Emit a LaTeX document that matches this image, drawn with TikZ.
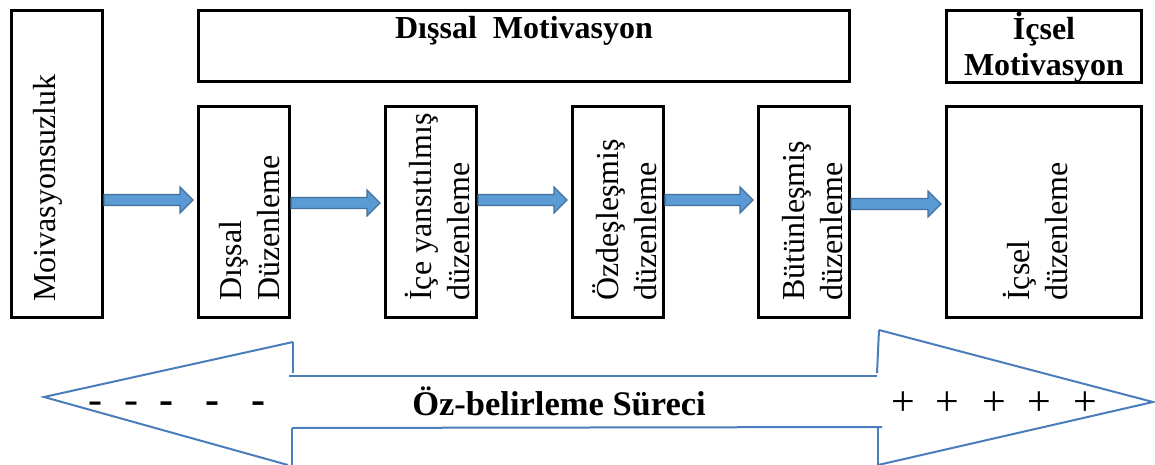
\documentclass[tikz,border=0pt]{standalone}
\usepackage{fontspec}
\setmainfont{Liberation Serif}
\usetikzlibrary{calc}
\definecolor{arrowfill}{HTML}{5B9BD5}
\definecolor{arrowedge}{HTML}{41719C}
\definecolor{spanline}{HTML}{4A7EBB}
\begin{document}
\begin{tikzpicture}[x=1pt,y=-1pt,
  box/.style={draw=black, line width=3pt, inner sep=0pt, minimum width=91pt},
  lbl/.style={font=\fontsize{32}{38}\selectfont, inner sep=0pt},
  vlbl/.style={lbl, rotate=90, align=left, anchor=west},
  title/.style={font=\fontsize{32}{36}\selectfont\bfseries, inner sep=0pt, align=center},
  sign/.style={font=\fontsize{42}{48}\selectfont, inner sep=0pt, anchor=base},
  boldsign/.style={sign, font=\fontsize{42}{48}\selectfont\bfseries},
  barrow/.style={fill=arrowfill, draw=arrowedge, line width=1.2pt, line join=miter,
    to path={let \p1=(\tikztostart), \p2=(\tikztotarget) in
      (\x1,\y1+5.5pt) -- (\x2-17pt,\y1+5.5pt) -- (\x2-17pt,\y1+13pt) -- (\x2-4pt,\y1)
      -- (\x2-17pt,\y1-13pt) -- (\x2-17pt,\y1-5.5pt) -- (\x1,\y1-5.5pt) -- cycle}},
  span/.style={draw=spanline, line width=2pt, line join=miter}]
\useasboundingbox (0,0) rectangle (1155,465);

% frames
\node[box, minimum height=307pt] (amot) at (57,164) {};
\node[box, minimum width=651pt, minimum height=71pt] (dism) at (524,46) {};
\node[box, minimum width=195pt, minimum height=72pt] (icm) at (1044,46.5) {};
\node[box, minimum height=211pt] (dd) at (244,212) {};
\node[box, minimum height=211pt] (iy) at (431,212) {};
\node[box, minimum height=211pt] (oz) at (618,212) {};
\node[box, minimum height=211pt] (bt) at (804,212) {};
\node[box, minimum width=195pt, minimum height=211pt] (id) at (1044,212) {};

% labels
\node[lbl, rotate=90, anchor=base west] (amotl) at (55,302) {Moivasyonsuzluk};
\node[title, anchor=base] (disml) at (524,39) {Dışsal\ \ Motivasyon};
\node[title] (icml) at (1044,47) {İçsel\\Motivasyon};
\node[vlbl] (ddl) at (250,301) {Dışsal\\Düzenleme};
\node[vlbl] (iyl) at (437,301) {İçe yansıtılmış\\düzenleme};
\node[vlbl] (ozl) at (625,301) {Özdeşleşmiş\\düzenleme};
\node[vlbl] (btl) at (813,301) {Bütünleşmiş\\düzenleme};
\node[vlbl] (idl) at (1035,301) {İçsel\\düzenleme};

% block arrows between the stages
\draw[barrow] (amot.east |- 0,200) to (dd.west |- 0,200);
\draw[barrow] (dd.east |- 0,203) to (iy.west |- 0,203);
\draw[barrow] (iy.east |- 0,200) to (oz.west |- 0,200);
\draw[barrow] (oz.east |- 0,200) to (bt.west |- 0,200);
\draw[barrow] (bt.east |- 0,204) to (id.west |- 0,204);

% open double arrow of the self-determination continuum
\draw[span] (293,342) -- (44,397) -- (288,465);
\draw[span] (293,342) -- (293,373);
\draw[span] (289,376) -- (877,376);
\draw[span] (292,428) -- (292,466);
\draw[span] (292,428) -- (882,427);
\draw[span] (879,330) -- (877,373);
\draw[span] (879,330) -- (1153,402) -- (878,465);
\draw[span] (878,428) -- (878,466);

\node[title, font=\fontsize{34.5}{40}\selectfont\bfseries, anchor=base] (ozb) at (559,415) {Öz-belirleme Süreci};

% minus and plus signs
\node[sign] (m1) at (95,413.5) {-};
\node[sign] (m2) at (131,413.5) {-};
\node[boldsign] (m3) at (166.5,413.5) {-};
\node[boldsign] (m4) at (212.5,413.5) {-};
\node[boldsign] (m5) at (258.5,413.5) {-};
\node[sign] (p1) at (903,415) {+};
\node[sign] (p2) at (947,415) {+};
\node[sign] (p3) at (994,415) {+};
\node[sign] (p4) at (1039,415) {+};
\node[sign] (p5) at (1085,415) {+};
\end{tikzpicture}
\end{document}
